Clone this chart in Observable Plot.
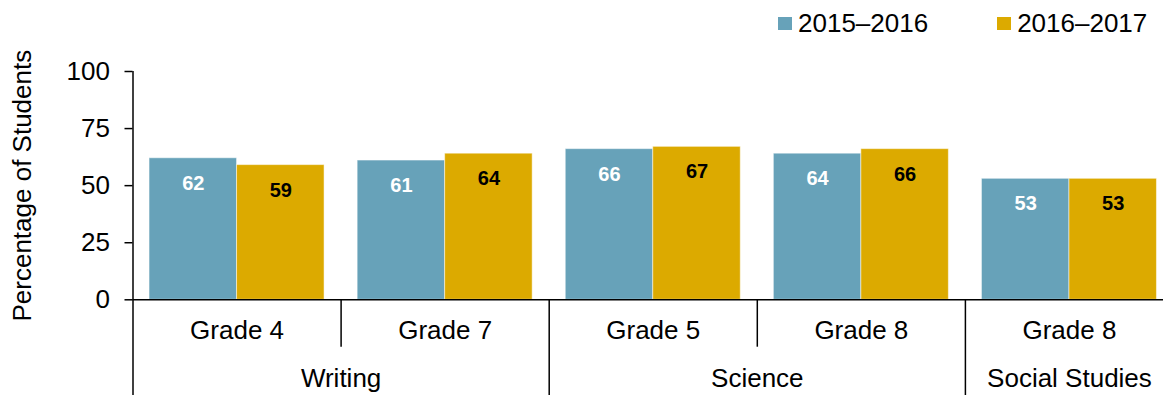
<!DOCTYPE html>
<html><head><meta charset="utf-8">
<script src="https://cdn.jsdelivr.net/npm/d3@7"></script>
<script src="https://cdn.jsdelivr.net/npm/@observablehq/plot@0.6"></script>
<style>
html,body{margin:0;padding:0;background:#fff;overflow:hidden;}
#wrap{position:relative;width:1163px;height:395px;font-family:"Liberation Sans",Arial,sans-serif;}
#chart svg{display:block;}
.legend{position:absolute;top:8px;left:778px;display:flex;font-size:26px;line-height:30px;color:#000;white-space:nowrap;}
.item{display:flex;align-items:flex-start;margin-right:69px;}
.sw{width:14px;height:13px;margin-top:9px;margin-right:6px;}
</style></head><body>
<div id="wrap"><div id="chart"></div><div class="legend" id="legend"></div></div>
<script>
const grades = ["Grade 4", "Grade 7", "Grade 5", "Grade 8", "Grade 8"];
const subjects = ["Writing", "Writing", "Science", "Science", "Social Studies"];
const series = ["2015–2016", "2016–2017"];
const values2015 = [62, 61, 66, 64, 53];
const values2016 = [59, 64, 67, 66, 53];
const yTicks = [0, 25, 50, 75, 100];
const colors = ["#67a2b9", "#dcaa00"];

// layout
const pad = 0.0795, bw = 0.4205;
const pxPerUnit = (299.3 - 71) / 100;
const shortDepth = -47.4 / pxPerUnit, longDepth = -96 / pxPerUnit;

const rows = grades.flatMap((g, i) => series.map((s, j) => ({
  i, j, series: s, value: (j === 0 ? values2015 : values2016)[i]
})));

const seps = [];
for (let i = 1; i < grades.length; i++) seps.push({x: i, long: subjects[i] !== subjects[i - 1]});

const subjectSpans = [];
subjects.forEach((s, i) => {
  const last = subjectSpans[subjectSpans.length - 1];
  if (last && last.name === s) last.end = i + 1;
  else subjectSpans.push({name: s, start: i, end: i + 1});
});

const chart = Plot.plot({
  width: 1163, height: 395,
  marginTop: 71, marginBottom: 95.7, marginLeft: 132.5, marginRight: 0,
  x: {domain: [0, grades.length], range: [132.5, 1173], axis: null},
  y: {domain: [0, 100], axis: null},
  color: {domain: series, range: colors},
  style: {fontFamily: "'Liberation Sans', Arial, sans-serif", background: "transparent", color: "#000"},
  marks: [
    Plot.rectY(rows, {
      x1: d => d.i + pad + d.j * bw, x2: d => d.i + pad + (d.j + 1) * bw,
      y1: 0, y2: "value", fill: "series", stroke: "#fff", strokeOpacity: 0.5, strokeWidth: 1
    }),
    Plot.text(rows.filter(d => d.j === 0), {
      x: d => d.i + pad + (d.j + 0.5) * bw, y: "value", text: d => String(d.value),
      dy: 25, fill: "#fff", fontWeight: "bold", fontSize: 20
    }),
    Plot.text(rows.filter(d => d.j === 1), {
      x: d => d.i + pad + (d.j + 0.5) * bw, y: "value", text: d => String(d.value),
      dy: 25, fill: "#000", fontWeight: "bold", fontSize: 20
    }),
    Plot.axisY({ticks: yTicks, tickSize: 8, tickPadding: 15, fontSize: 26, label: null, strokeWidth: 1.5}),
    Plot.ruleY([0], {x1: 0, x2: grades.length, stroke: "#000", strokeWidth: 1.5}),
    Plot.ruleX([0], {y1: longDepth, y2: 100, stroke: "#000", strokeWidth: 1.5}),
    Plot.ruleX(seps, {x: "x", y1: 0, y2: d => d.long ? longDepth : shortDepth, stroke: "#000", strokeWidth: 1.5}),
    Plot.text(grades, {x: (d, i) => i + 0.5, frameAnchor: "bottom", lineAnchor: "middle", dy: 31, fontSize: 26, fill: "#000"}),
    Plot.text(subjectSpans, {x: d => (d.start + d.end) / 2, text: "name", frameAnchor: "bottom", lineAnchor: "middle", dy: 79, fontSize: 26, fill: "#000"}),
    Plot.text(["Percentage of Students"], {frameAnchor: "left", textAnchor: "middle", lineAnchor: "middle", rotate: -90, dx: -110, fontSize: 26, fill: "#000"})
  ]
});
document.getElementById("chart").appendChild(chart);

const legend = document.getElementById("legend");
series.forEach((s, k) => {
  const item = document.createElement("div");
  item.className = "item";
  const sw = document.createElement("div");
  sw.className = "sw";
  sw.style.background = colors[k];
  const label = document.createElement("span");
  label.textContent = s;
  item.appendChild(sw); item.appendChild(label);
  legend.appendChild(item);
});
</script>
</body></html>
